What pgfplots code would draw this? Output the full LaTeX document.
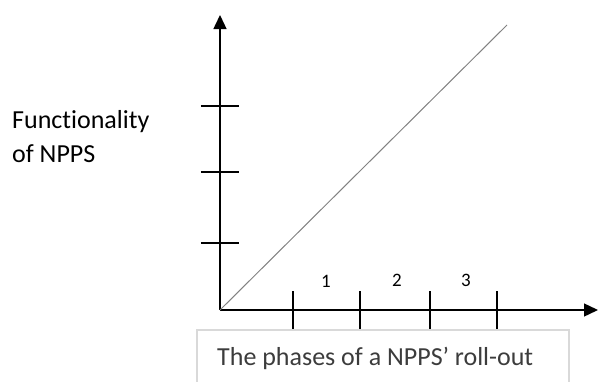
\documentclass[border=0pt]{standalone}
\usepackage{pgfplots}
\pgfplotsset{compat=1.18}
\usepackage{fontspec}
\setmainfont{Carlito}[Ligatures=NoCommon]
\usetikzlibrary{arrows.meta}
\definecolor{diag}{RGB}{130,130,130}
\definecolor{boxgray}{RGB}{217,217,217}
\definecolor{txtgray}{RGB}{60,60,60}
\begin{document}
\begin{tikzpicture}
\begin{axis}[
  anchor=origin, at={(0,0)},
  x=1pt, y=1pt,
  xmin=0, xmax=378, ymin=0, ymax=295,
  axis lines=left,
  axis line style={line width=1.4pt, -{Triangle[length=14pt,width=13pt]}},
  xtick={73,140,210,277}, ytick={67,138,204},
  xticklabels={}, yticklabels={},
  tick align=center, major tick length=38pt,
  tick style={line width=1.2pt, black},
  clip=false,
]
\addplot[no marks, line width=1pt, color=diag] coordinates {(0,0) (287,285)};
\end{axis}
% phase numbers
\begin{scope}[every node/.style={inner sep=0pt, anchor=base, font=\fontsize{19}{22}\selectfont}]
\node at (106pt,23pt) {1};
\node at (177pt,24pt) {2};
\node at (246pt,24pt) {3};
\end{scope}
% y label
\node[anchor=base west, inner sep=0pt, font=\fontsize{26}{32}\selectfont] at (-208pt,182pt) {Functionality};
\node[anchor=base west, inner sep=0pt, font=\fontsize{26}{32}\selectfont] at (-208pt,148pt) {of NPPS};
% x label box
\draw[color=boxgray, line width=1.5pt] (-23pt,-20pt) rectangle (349pt,-90pt);
\node[anchor=base west, inner sep=0pt, font=\fontsize{26}{32}\selectfont, color=txtgray] at (-3pt,-55pt) {The phases of a NPPS’ roll-out};
\pgfresetboundingbox
\path[use as bounding box] (-220pt,-71pt) rectangle (380pt,310pt);
\end{tikzpicture}
\end{document}
